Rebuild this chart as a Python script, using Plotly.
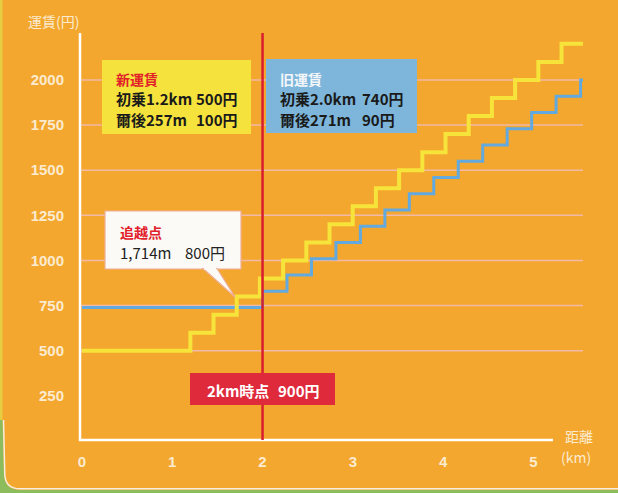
import plotly.graph_objects as go

# ---------------- data ----------------
new_dist = [0, 1.2, 1.457, 1.714, 1.971, 2.228, 2.485, 2.742, 2.999, 3.256, 3.513,
            3.770, 4.027, 4.284, 4.541, 4.798, 5.055, 5.312, 5.55]
new_fare = [500, 600, 700, 800, 900, 1000, 1100, 1200, 1300, 1400, 1500,
            1600, 1700, 1800, 1900, 2000, 2100, 2200, 2200]

old_dist = [0, 2.0, 2.271, 2.542, 2.813, 3.084, 3.355, 3.626, 3.897, 4.168,
            4.439, 4.710, 4.981, 5.252, 5.523, 5.55]
old_fare = [740, 830, 920, 1010, 1100, 1190, 1280, 1370, 1460, 1550,
            1640, 1730, 1820, 1910, 2000, 2000]

y_ticks = [250, 500, 750, 1000, 1250, 1500, 1750, 2000]
y_labels = ["250", "500", "750", "1000", "1250", "1500", "1750", "2000"]
x_ticks = [0, 1, 2, 3, 4, 5]
x_labels = ["0", "1", "2", "3", "4", "5"]
grid_vals = [500, 750, 1000, 1250, 1500, 1750, 2000]
marker_km = 2.0

# ---------------- geometry ----------------
W, H = 618, 493
L, T, R, B = 82, 33, 35, 52
PW, PH = W - L - R, H - T - B
XMAX, YMAX = 5.55, 2260


def px(x):
    return (x - L) / PW


def py(y):
    return (T + PH - y) / PH


ORANGE = "#F3A72E"
CREAM = "#FBEBD0"
GRID = "#F2B9A6"
YEL = "#F7E43A"
BLUE = "#62A9DF"
RED = "#D81E2E"
GREEN = "#8CBC5C"
JP = "Noto Sans CJK JP"

fig = go.Figure()
fig.add_trace(go.Scatter(x=old_dist, y=old_fare, mode="lines", line_shape="hv",
                         line=dict(color=BLUE, width=3), name="旧運賃",
                         hoverinfo="skip"))
fig.add_trace(go.Scatter(x=new_dist, y=new_fare, mode="lines", line_shape="hv",
                         line=dict(color=YEL, width=4), name="新運賃",
                         hoverinfo="skip"))

shapes = []
# page edge / green corner
shapes.append(dict(type="rect", xref="paper", yref="paper",
                   x0=px(0), x1=px(2.5), y0=py(0), y1=py(420),
                   fillcolor="#E6CC40", line=dict(width=0), layer="below"))
shapes.append(dict(type="path", xref="paper", yref="paper",
                   path=(f"M {px(0)},{py(420)} L {px(0)},{py(493)} L {px(618)},{py(493)} "
                         f"L {px(618)},{py(490)} L {px(20)},{py(490)} "
                         f"Q {px(5)},{py(490)} {px(4)},{py(475)} L {px(2.5)},{py(420)} Z"),
                   fillcolor=GREEN, line=dict(width=0), layer="below"))
shapes.append(dict(type="path", xref="paper", yref="paper",
                   path=(f"M {px(3.5)},{py(420)} L {px(4.8)},{py(475)} "
                         f"Q {px(5.8)},{py(488.8)} {px(20)},{py(488.8)} L {px(618)},{py(488.8)}"),
                   line=dict(color="#F4EFE0", width=1.5), layer="below"))
# gridlines
for g in grid_vals:
    shapes.append(dict(type="line", xref="paper", yref="y",
                       x0=px(80), x1=px(583), y0=g, y1=g,
                       line=dict(color=GRID, width=1.5), layer="below"))
# axes
shapes.append(dict(type="line", xref="paper", yref="paper",
                   x0=px(80), x1=px(80), y0=py(441), y1=py(33),
                   line=dict(color="#FFFFFF", width=2.5), layer="below"))
shapes.append(dict(type="line", xref="paper", yref="paper",
                   x0=px(79), x1=px(553), y0=py(440), y1=py(440),
                   line=dict(color="#FFFFFF", width=2.5), layer="below"))
# 2km marker line
shapes.append(dict(type="line", xref="x", yref="paper",
                   x0=marker_km, x1=marker_km, y0=py(440), y1=py(33),
                   line=dict(color=RED, width=2.5), layer="above"))
# boxes
shapes.append(dict(type="rect", xref="paper", yref="paper",
                   x0=px(102), x1=px(251), y0=py(134), y1=py(60),
                   fillcolor="#F5E23C", line=dict(width=0), layer="above"))
shapes.append(dict(type="rect", xref="paper", yref="paper",
                   x0=px(266), x1=px(417), y0=py(133), y1=py(59),
                   fillcolor="#7DB6DA", line=dict(width=0), layer="above"))
shapes.append(dict(type="rect", xref="paper", yref="paper",
                   x0=px(105), x1=px(241), y0=py(269), y1=py(211),
                   fillcolor="#FBFAF6", line=dict(color="#EFAE98", width=1.2),
                   layer="above"))
shapes.append(dict(type="path", xref="paper", yref="paper",
                   path=(f"M {px(203)},{py(268.5)} L {px(235)},{py(297)} "
                         f"L {px(217)},{py(268.5)} Z"),
                   fillcolor="#FBFAF6", line=dict(color="#EFAE98", width=1.2),
                   layer="above"))
shapes.append(dict(type="line", xref="paper", yref="paper",
                   x0=px(204), x1=px(216), y0=py(268.5), y1=py(268.5),
                   line=dict(color="#FBFAF6", width=2.5), layer="above"))
shapes.append(dict(type="rect", xref="paper", yref="paper",
                   x0=px(190), x1=px(335), y0=py(405), y1=py(373),
                   fillcolor="#DF2A3B", line=dict(width=0), layer="above"))

ann = []


def txt(s, x, y, color, size=15, weight="bold", anchor="left"):
    ann.append(dict(text=s, xref="paper", yref="paper", x=px(x), y=py(y),
                    xanchor=anchor, yanchor="middle", showarrow=False,
                    font=dict(family=JP, size=size, color=color, weight=weight)))


# new fare box
txt("新運賃", 114, 79, "#E1202A", 14)
txt("初乗1.2km", 114, 99, "#1A1A1A")
txt("500円", 240, 99, "#1A1A1A", anchor="right")
txt("爾後257m", 114, 119, "#1A1A1A")
txt("100円", 240, 119, "#1A1A1A", anchor="right")
# old fare box
txt("旧運賃", 278, 79, "#F4F6FA", 14)
txt("初乗2.0km", 278, 99, "#1A1A1A")
txt("740円", 406, 99, "#1A1A1A", anchor="right")
txt("爾後271m", 278, 119, "#1A1A1A")
txt("90円", 397, 119, "#1A1A1A", anchor="right")
# crossing callout
txt("追越点", 118, 232, "#E1202A", 14)
txt("1,714m", 118, 252, "#222222", 15, "normal")
txt("800円", 227, 252, "#222222", 15, "normal", anchor="right")
# 2km box
txt("2km時点", 205, 390, "#FFFFFF")
txt("900円", 322, 390, "#FFFFFF", anchor="right")
# axis titles
txt("運賃(円)", 26, 21, CREAM, 14, "normal")
txt("距離", 563, 436, CREAM, 14, "normal")
txt("(km)", 559, 457, CREAM, 14, "normal")

fig.update_layout(
    width=W, height=H,
    margin=dict(l=L, r=R, t=T, b=B),
    paper_bgcolor=ORANGE, plot_bgcolor=ORANGE,
    showlegend=False,
    shapes=shapes, annotations=ann,
    xaxis=dict(range=[0, XMAX], tickvals=x_ticks, ticktext=x_labels,
               showgrid=False, zeroline=False, showline=False,
               ticks="", ticklabelstandoff=10,
               tickfont=dict(family="Liberation Sans", size=15, color=CREAM,
                             weight="bold")),
    yaxis=dict(range=[0, YMAX], tickvals=y_ticks, ticktext=y_labels,
               showgrid=False, zeroline=False, showline=False,
               ticks="", ticklabelstandoff=17,
               tickfont=dict(family="Liberation Sans", size=15, color=CREAM,
                             weight="bold")),
)

fig.write_html("out.html", config={"displayModeBar": False},
               post_script="document.body.style.margin='0px';"
                           "document.body.style.overflow='hidden';")
